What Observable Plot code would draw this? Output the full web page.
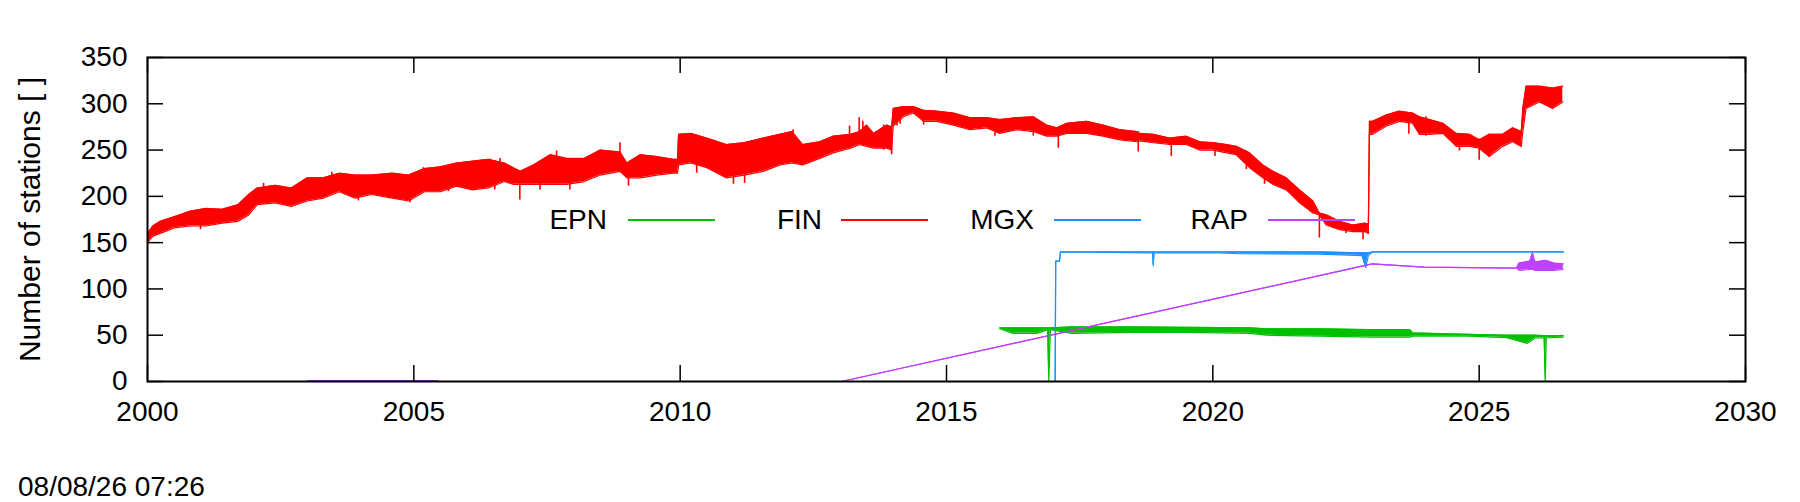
<!DOCTYPE html>
<html>
<head>
<meta charset="utf-8">
<script src="https://cdn.jsdelivr.net/npm/d3@7"></script>
<script src="https://cdn.jsdelivr.net/npm/@observablehq/plot@0.6"></script>
<style>
html, body { margin: 0; padding: 0; background: #fff; }
#wrap { position: relative; width: 1800px; height: 502px; font-family: "Liberation Sans", Arial, sans-serif; color: #000; }
#wrap svg { display: block; }
#date { height: 29px; padding-top: 13px; padding-left: 18px; font-size: 28px; line-height: 28px; }
.keytext { position: absolute; font-size: 28px; line-height: 28px; white-space: nowrap; text-align: right; }
.keyline { position: absolute; height: 2px; }
</style>
</head>
<body>
<div id="wrap"></div>
<script>
// ---------- data ----------
const SERIES = ["EPN", "FIN", "MGX", "RAP"];
const COLORS = ["#00c000", "#ff0000", "#1e90ff", "#c040ff"];

const X_TICKS = [2000, 2005, 2010, 2015, 2020, 2025, 2030];
const Y_TICKS = [0, 50, 100, 150, 200, 250, 300, 350];

// FIN: time (decimal year), lower and upper edge of the daily noise band
const FIN_T  = [2000.00,2000.10,2000.24,2000.50,2000.80,2001.10,2001.40,2001.70,2001.90,2002.06,2002.40,2002.70,2003.00,2003.30,2003.60,2003.90,2004.20,2004.60,2004.90,2005.20,2005.50,2005.80,2006.10,2006.40,2006.70,2006.87,2007.00,2007.25,2007.56,2007.87,2008.20,2008.50,2008.87,2009.00,2009.25,2009.56,2009.87,2009.95,2009.97,2010.20,2010.50,2010.87,2011.20,2011.56,2011.87,2012.10,2012.30,2012.62,2012.87,2013.20,2013.37,2013.50,2013.63,2013.88,2013.97,2014.00,2014.19,2014.38,2014.57,2014.82,2015.13,2015.44,2015.76,2016.00,2016.32,2016.63,2016.88,2017.07,2017.26,2017.63,2017.94,2018.26,2018.57,2018.63,2018.88,2019.19,2019.50,2019.76,2020.00,2020.26,2020.44,2020.69,2020.94,2021.13,2021.38,2021.63,2021.88,2022.00,2022.13,2022.38,2022.63,2022.85,2022.92,2022.94,2023.00,2023.26,2023.50,2023.75,2023.88,2024.07,2024.32,2024.57,2024.82,2025.00,2025.19,2025.44,2025.63,2025.79,2025.82,2025.88,2026.13,2026.38,2026.57];
const FIN_LO = [150,157,160,166,168,168,171,173,180,191,193,189,195,198,205,198,202,198,195,205,205,211,207,209,216,213,213,213,213,213,216,223,227,220,220,223,225,225,234,236,231,220,223,227,234,236,234,241,247,252,256,254,252,252,250,276,286,290,281,281,277,272,274,268,272,270,265,265,268,268,265,261,259,260,258,256,256,250,250,247,245,231,220,213,207,193,182,180,169,164,162,162,160,267,267,276,281,279,267,267,268,254,254,252,243,254,259,254,270,295,302,295,302];
const FIN_HI = [160,168,173,178,184,187,186,191,202,209,212,209,220,220,225,223,223,225,223,230,232,236,238,240,236,231,227,234,245,241,241,250,248,236,245,243,240,240,267,268,263,256,258,263,267,270,256,259,265,267,270,277,268,277,275,295,297,297,293,292,290,285,285,283,285,286,277,274,279,281,277,272,270,268,267,263,265,259,258,256,254,247,234,227,220,207,195,182,180,173,169,171,170,281,281,288,292,290,286,283,279,268,267,261,267,267,274,270,295,319,319,317,319];

// FIN: single-day excursions out of the band (time, low end, high end)
const FIN_SPIKE_T  = [2000.995,2001.62,2002.18,2002.62,2003.46,2003.96,2004.56,2004.93,2005.18,2005.65,2006.43,2006.52,2006.62,2006.99,2007.37,2007.68,2007.93,2008.87,2009.03,2010.31,2011.00,2011.21,2012.12,2013.18,2013.36,2013.43,2013.66,2013.82,2013.97,2014.07,2014.13,2014.57,2015.91,2016.63,2017.10,2018.60,2019.22,2020.04,2020.63,2020.97,2022.00,2022.50,2022.82,2023.68,2024.00,2024.63,2025.00,2025.19,2026.35];
const FIN_SPIKE_LO = [164,173,195,189,205,195,205,193,207,205,212,207,220,196,207,215,207,227,211,225,213,214,236,252,256,254,254,250,245,276,278,277,265,265,252,248,243,243,229,213,155,160,153,267,265,249,239,243,295];
const FIN_SPIKE_HI = [185,188,214,208,226,222,225,222,231,232,240,238,241,227,234,249,240,258,235,266,255,258,272,276,285,281,268,277,270,296,296,293,283,286,274,270,263,258,249,232,182,170,170,290,286,268,262,267,317];

// EPN
const EPN_T  = [2016.00,2016.25,2016.70,2016.90,2016.92,2016.95,2017.35,2018.50,2019.50,2020.70,2021.00,2022.00,2023.00,2023.70,2023.75,2024.80,2025.50,2025.90,2026.05,2026.22,2026.24,2026.26,2026.58];
const EPN_LO = [57,52,52,56,0,56,52,53,53,52,50,49,48,48,49,49,47.5,41,47,47,0,47,48];
const EPN_HI = [58,58,58,58,58,58,59,59,58.5,58,57,57,56,56,52.5,51,50,50,50,49.5,49.5,49.5,49.5];

// MGX
const MGX_T  = [2017.04,2017.05,2017.12,2017.14,2018.87,2018.88,2018.90,2020.10,2020.50,2022.00,2022.80,2022.87,2022.92,2023.00,2026.58];
const MGX_LO = [0,130,130,140,139,125,139,139,138,137.5,136,123,136,140,140];
const MGX_HI = [0,130,130,140,140,140,140,140,140,140,139,139,139,140,140];

// RAP (null = gap in the record)
const RAP_T  = [2003.00,2005.45,2005.46,2013.03,2022.99,2023.96,2025.70,2025.75,2025.95,2026.00,2026.05,2026.25,2026.40,2026.58];
const RAP_LO = [1,1,null,0,127,123.5,122.5,120,121,121,120,120,120,121];
const RAP_HI = [1,1,null,0,127,123.5,122.5,128,130,139,129,131,128,127];

const DATE_TEXT = "08/08/26 07:26";
const Y_LABEL = "Number of stations [ ]";

// ---------- build ----------
const W = 1800, H = 460;
const ML = 147, MR = 55, MT = 57, MB = 79;
const PW = W - ML - MR, PH = H - MT - MB;
const TICK = 16;
const FONT = "Liberation Sans, Arial, sans-serif";

function rows(T, LO, HI) {
  return T.map((t, i) => ({t, lo: LO[i], hi: HI[i]}));
}
const DATA = [
  rows(EPN_T, EPN_LO, EPN_HI),
  rows(FIN_T, FIN_LO, FIN_HI),
  rows(MGX_T, MGX_LO, MGX_HI),
  rows(RAP_T, RAP_LO, RAP_HI)
];
const FIN_SPIKES = rows(FIN_SPIKE_T, FIN_SPIKE_LO, FIN_SPIKE_HI);

const seriesMarks = [];
DATA.forEach((d, i) => {
  const c = COLORS[i];
  seriesMarks.push(
    Plot.area(d, {x1: "t", y1: "lo", y2: "hi", fill: c, curve: "linear"}),
    Plot.line(d, {x: "t", y: "lo", stroke: c, strokeWidth: 1.2, curve: "linear"}),
    Plot.line(d, {x: "t", y: "hi", stroke: c, strokeWidth: 1.2, curve: "linear"})
  );
  if (SERIES[i] === "FIN") {
    seriesMarks.push(Plot.ruleX(FIN_SPIKES, {x: "t", y1: "lo", y2: "hi", stroke: c, strokeWidth: 1.6}));
  }
});

const chart = Plot.plot({
  width: W, height: H,
  marginLeft: ML, marginRight: MR, marginTop: MT, marginBottom: MB,
  style: {fontFamily: FONT, fontSize: "28px", background: "#fff", color: "#000"},
  x: {domain: [2000, 2030], ticks: X_TICKS},
  y: {domain: [0, 350], ticks: Y_TICKS},
  marks: [
    ...seriesMarks,
    // inward ticks on all four sides
    Plot.tickX(X_TICKS, {x: d => d, insetTop: PH - TICK, stroke: "#000", strokeWidth: 1.5}),
    Plot.tickX(X_TICKS, {x: d => d, insetBottom: PH - TICK, stroke: "#000", strokeWidth: 1.5}),
    Plot.tickY(Y_TICKS, {y: d => d, insetRight: PW - TICK, stroke: "#000", strokeWidth: 1.5}),
    Plot.tickY(Y_TICKS, {y: d => d, insetLeft: PW - TICK, stroke: "#000", strokeWidth: 1.5}),
    Plot.axisX(X_TICKS, {tickSize: 0, tickPadding: 20, fontSize: 28, tickFormat: d => String(d), label: null}),
    Plot.axisY(Y_TICKS, {tickSize: 0, tickPadding: 20, fontSize: 28, tickFormat: d => String(d), label: null}),
    Plot.text([Y_LABEL], {text: d => d, frameAnchor: "left", dx: -129, rotate: -90,
      lineAnchor: "top", textAnchor: "middle", fontSize: 30, fill: "#000"}),
    Plot.frame({stroke: "#000", strokeWidth: 2})
  ]
});

const wrap = document.getElementById("wrap");
wrap.appendChild(chart);

const date = document.createElement("div");
date.id = "date";
date.textContent = DATE_TEXT;
wrap.appendChild(date);

// key (inside the plot area, like the original)
const KEY_TEXT_END = [607, 822, 1034, 1248];
const KEY_LINE_X = [628, 841, 1054, 1268];
const KEY_LINE_W = 87;
const KEY_TEXT_TOP = 206, KEY_LINE_TOP = 219;
SERIES.forEach((s, i) => {
  const t = document.createElement("div");
  t.className = "keytext";
  t.textContent = s;
  t.style.right = (W - KEY_TEXT_END[i]) + "px";
  t.style.top = KEY_TEXT_TOP + "px";
  wrap.appendChild(t);
  const l = document.createElement("div");
  l.className = "keyline";
  l.style.left = KEY_LINE_X[i] + "px";
  l.style.width = KEY_LINE_W + "px";
  l.style.top = KEY_LINE_TOP + "px";
  l.style.background = COLORS[i];
  wrap.appendChild(l);
});
</script>
</body>
</html>
